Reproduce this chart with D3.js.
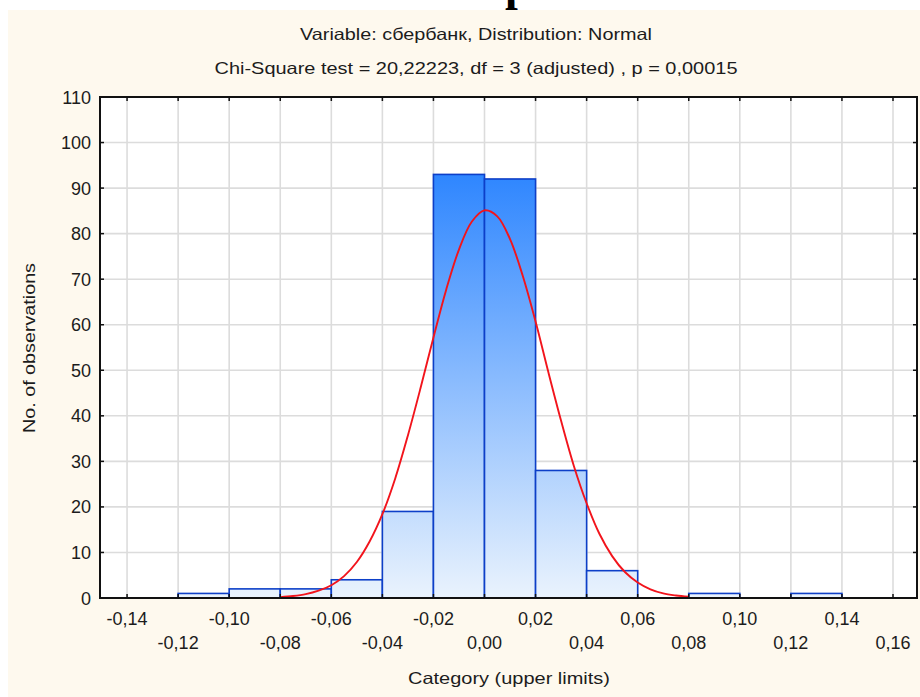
<!DOCTYPE html>
<html>
<head>
<meta charset="utf-8">
<script src="https://cdn.jsdelivr.net/npm/d3@7"></script>
<style>
  html, body { margin: 0; padding: 0; background: #ffffff; }
  svg { display: block; }
  text { font-family: "Liberation Sans", Arial, sans-serif; fill: #1c1c1c; }
</style>
</head>
<body>
<svg id="chart" width="920" height="697"></svg>
<script>
// ---- data ----
const titleLine1 = "Variable: сбербанк, Distribution: Normal";
const titleLine2 = "Chi-Square test = 20,22223, df = 3 (adjusted) , p = 0,00015";
const xAxisTitle = "Category (upper limits)";
const yAxisTitle = "No. of observations";

const binLower = [-0.12, -0.10, -0.08, -0.06, -0.04, -0.02, 0.00, 0.02, 0.04, 0.06, 0.08, 0.10, 0.12];
const binUpper = [-0.10, -0.08, -0.06, -0.04, -0.02, 0.00, 0.02, 0.04, 0.06, 0.08, 0.10, 0.12, 0.14];
const counts   = [1, 2, 2, 4, 19, 93, 92, 28, 6, 0, 1, 0, 1];

const curveX = [-0.08, -0.075, -0.07, -0.065, -0.06, -0.055, -0.05, -0.045, -0.04, -0.035, -0.03, -0.025,
                -0.02, -0.015, -0.01, -0.005, 0.00, 0.005, 0.01, 0.015, 0.02, 0.025, 0.03, 0.035,
                0.04, 0.045, 0.05, 0.055, 0.06, 0.065, 0.07, 0.075, 0.08];
const curveY = [0.2, 0.43, 0.84, 1.6, 2.8, 4.8, 7.9, 12.4, 18.4, 26.2, 35.7, 46.2,
                57.2, 67.7, 76.5, 82.6, 85.1, 83.8, 78.8, 70.7, 60.7, 49.6, 38.9, 29.0,
                20.8, 14.1, 9.2, 5.7, 3.4, 1.9, 1.0, 0.54, 0.26];

const xTickValues = [-0.14, -0.12, -0.10, -0.08, -0.06, -0.04, -0.02, 0.00, 0.02, 0.04, 0.06, 0.08, 0.10, 0.12, 0.14, 0.16];
const xTickLabels = ["-0,14", "-0,12", "-0,10", "-0,08", "-0,06", "-0,04", "-0,02", "0,00", "0,02", "0,04", "0,06", "0,08", "0,10", "0,12", "0,14", "0,16"];
const yTickValues = [0, 10, 20, 30, 40, 50, 60, 70, 80, 90, 100, 110];
const xDomain = [-0.1506, 0.1694];
const yDomain = [0, 110];

// ---- layout ----
const svg = d3.select("#chart");
const W = 920, H = 697;
const plot = { left: 100, right: 917, top: 97, bottom: 598 };

svg.append("rect").attr("x", 0).attr("y", 0).attr("width", W).attr("height", H).attr("fill", "#ffffff");
svg.append("rect").attr("x", 8).attr("y", 10).attr("width", W - 8).attr("height", H - 10).attr("fill", "#fef9ee");

// partially cut caption glyph at the very top (cut off in the reference too)
svg.append("text").attr("x", 505).attr("y", 0)
  .style("font-family", "'Liberation Serif', serif").style("font-weight", "bold")
  .style("font-size", "46px").style("fill", "#000").text("р");

const x = d3.scaleLinear().domain(xDomain).range([plot.left, plot.right]);
const y = d3.scaleLinear().domain(yDomain).range([plot.bottom, plot.top]);

// plot background
svg.append("rect").attr("x", plot.left).attr("y", plot.top)
  .attr("width", plot.right - plot.left).attr("height", plot.bottom - plot.top).attr("fill", "#ffffff");

// gridlines
const grid = svg.append("g");
grid.selectAll(".vg").data(xTickValues).join("line")
  .attr("x1", d => x(d)).attr("x2", d => x(d)).attr("y1", plot.top).attr("y2", plot.bottom)
  .attr("stroke", "#dcdcdc").attr("stroke-width", 1.6);
grid.selectAll(".hg").data(yTickValues.filter(v => v > 0 && v < 110)).join("line")
  .attr("x1", plot.left).attr("x2", plot.right).attr("y1", d => y(d)).attr("y2", d => y(d))
  .attr("stroke", "#dcdcdc").attr("stroke-width", 1.6);

// gradient for bars
const defs = svg.append("defs");
const grad = defs.append("linearGradient").attr("id", "barGrad")
  .attr("gradientUnits", "userSpaceOnUse").attr("x1", 0).attr("x2", 0)
  .attr("y1", plot.top).attr("y2", plot.bottom);
grad.append("stop").attr("offset", "0%").attr("stop-color", "#0c72ff");
grad.append("stop").attr("offset", "100%").attr("stop-color", "#eaf3fd");

// bars
const bars = counts.map((c, i) => ({ lo: binLower[i], hi: binUpper[i], c })).filter(d => d.c > 0);
svg.append("g").selectAll("rect").data(bars).join("rect")
  .attr("x", d => x(d.lo)).attr("width", d => x(d.hi) - x(d.lo))
  .attr("y", d => y(d.c)).attr("height", d => y(0) - y(d.c))
  .attr("fill", "url(#barGrad)").attr("stroke", "#0d3fc8").attr("stroke-width", 1.6);

// fitted normal curve
const line = d3.line().x(d => x(d[0])).y(d => y(d[1])).curve(d3.curveCatmullRom);
svg.append("path").datum(curveX.map((v, i) => [v, curveY[i]]))
  .attr("d", line).attr("fill", "none").attr("stroke", "#f2141c").attr("stroke-width", 1.9);

// frame
svg.append("rect").attr("x", plot.left).attr("y", plot.top)
  .attr("width", plot.right - plot.left).attr("height", plot.bottom - plot.top)
  .attr("fill", "none").attr("stroke", "#111").attr("stroke-width", 2);

// inner ticks on all four sides
const tickG = svg.append("g").attr("stroke", "#111").attr("stroke-width", 1.5);
xTickValues.forEach(v => {
  tickG.append("line").attr("x1", x(v)).attr("x2", x(v)).attr("y1", plot.top).attr("y2", plot.top + 4);
  tickG.append("line").attr("x1", x(v)).attr("x2", x(v)).attr("y1", plot.bottom).attr("y2", plot.bottom - 4);
});
yTickValues.forEach(v => {
  tickG.append("line").attr("x1", plot.left).attr("x2", plot.left + 4).attr("y1", y(v)).attr("y2", y(v));
  tickG.append("line").attr("x1", plot.right).attr("x2", plot.right - 4).attr("y1", y(v)).attr("y2", y(v));
});

// y tick labels
svg.append("g").selectAll("text").data(yTickValues).join("text")
  .attr("x", 91).attr("y", d => y(d) + 6.5).attr("text-anchor", "end")
  .style("font-size", "18px").text(d => String(d));

// x tick labels (alternating rows)
svg.append("g").selectAll("text").data(xTickValues).join("text")
  .attr("x", d => x(d)).attr("y", (d, i) => i % 2 === 0 ? 625 : 649)
  .attr("text-anchor", "middle").style("font-size", "18px")
  .text((d, i) => xTickLabels[i]);

// titles
svg.append("text").attr("x", 476).attr("y", 40).attr("text-anchor", "middle")
  .style("font-size", "16.5px").attr("textLength", 352).attr("lengthAdjust", "spacingAndGlyphs").text(titleLine1);
svg.append("text").attr("x", 476).attr("y", 74).attr("text-anchor", "middle")
  .style("font-size", "16.5px").attr("textLength", 523).attr("lengthAdjust", "spacingAndGlyphs").text(titleLine2);

// axis titles
svg.append("text").attr("x", 509).attr("y", 684).attr("text-anchor", "middle")
  .style("font-size", "16.5px").attr("textLength", 202).attr("lengthAdjust", "spacingAndGlyphs").text(xAxisTitle);
svg.append("text").attr("transform", "translate(35,348) rotate(-90)").attr("text-anchor", "middle")
  .style("font-size", "16.5px").attr("textLength", 170).attr("lengthAdjust", "spacingAndGlyphs").text(yAxisTitle);
</script>
</body>
</html>
